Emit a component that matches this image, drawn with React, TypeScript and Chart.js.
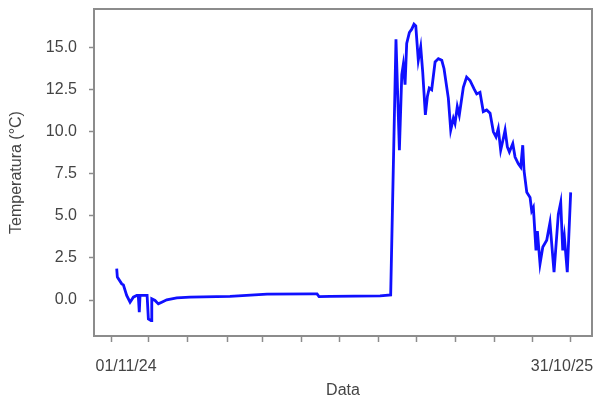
import React, { useEffect, useRef } from "react";
import { Chart, registerables } from "chart.js";

Chart.register(...registerables);

// Days since 01/11/24
const DAYS = [
  4.5, 5.0, 8.5, 9.8, 12.4, 15.1, 17.7, 20.4, 21.6, 22.4, 23.0, 27.0, 28.6, 29.6, 31.7, 32.3,
  34.9, 37.5, 40.2, 44.2, 52.1, 62.6, 94.3, 123.7, 160.1, 163.3, 164.9, 173.6, 213.3, 221.7,
  225.9, 228.6, 230.5, 231.7, 233.1, 234.4, 236.5, 238.4, 240.2, 241.6, 243.6, 245.5, 247.1,
  249.2, 250.8, 252.3, 254.2, 256.9, 259.5, 262.2, 264.0, 267.4, 269.3, 271.4, 272.7, 274.5,
  276.1, 279.3, 281.9, 284.6, 287.8, 289.9, 292.5, 295.1, 297.8, 300.5, 303.1, 305.2, 307.0,
  308.9, 311.0, 312.4, 314.2, 315.8, 318.5, 320.3, 322.9, 324.8, 326.4, 327.4, 329.6, 332.2,
  333.5, 334.8, 336.9, 338.0, 340.1, 342.3, 345.4, 348.0, 351.2, 354.6, 356.5, 358.1, 359.4,
  361.7, 364.4,
];
const TEMPS = [
  1.86, 1.36, 0.96, 0.9, 0.27, -0.13, 0.17, 0.27, 0.27, -0.73, 0.27, 0.27, 0.27, -1.12, -1.22, 0.07,
  -0.03, -0.23, -0.13, 0.01, 0.13, 0.17, 0.22, 0.35, 0.37, 0.36, 0.2, 0.22, 0.25, 0.3,
  15.5, 8.9, 13.4, 14.0, 12.8, 15.25, 15.9, 16.1, 16.4, 16.3, 14.25, 15.05, 13.55,
  11.0, 12.1, 12.6, 12.5, 14.15, 14.35, 14.25, 13.75, 12.0, 10.1, 10.8, 10.5, 11.5,
  11.0, 12.65, 13.25, 13.05, 12.55, 12.25, 12.35, 11.2, 11.3, 11.1, 10.0, 9.7, 10.2,
  8.9, 9.6, 10.1, 9.1, 8.8, 9.3, 8.5, 8.1, 7.9, 9.2, 7.7, 6.4, 6.1,
  5.3, 5.5, 2.95, 4.1, 2.15, 3.15, 3.55, 4.6, 1.65, 5.1, 5.8, 2.95, 3.75,
  1.65, 6.4,
];

const Y_TICKS = [0, 2.5, 5, 7.5, 10, 12.5, 15];
// month starts (days since 01/11/24)
const X_TICK_DAYS = [0, 30, 61, 92, 120, 151, 181, 212, 242, 273, 304, 334, 364];
const X_LABELS = ["01/11/24", "31/10/25"];
const X_LABEL_DAYS = [11.9, 357.5];

const FONT = "'Liberation Sans', Arial, sans-serif";

const boxPlugin = {
  id: "plotBox",
  afterDraw(chart: any) {
    const { ctx, chartArea } = chart;
    ctx.save();
    ctx.strokeStyle = "#8c8c8c";
    ctx.lineWidth = 2;
    ctx.strokeRect(chartArea.left, chartArea.top, chartArea.right - chartArea.left, chartArea.bottom - chartArea.top);
    ctx.restore();
  },
};

export default function App() {
  const ref = useRef<HTMLCanvasElement>(null);
  useEffect(() => {
    if (!ref.current) return;
    const data = DAYS.map((d, i) => ({ x: d, y: TEMPS[i] }));
    const chart = new Chart(ref.current, {
      type: "line",
      data: {
        datasets: [
          {
            data,
            borderColor: "#1010ff",
            borderWidth: 2.8,
            pointRadius: 0,
            tension: 0,
            fill: false,
          },
        ],
      },
      options: {
        animation: false,
        responsive: true,
        maintainAspectRatio: false,
        layout: { padding: { top: 9, right: 1, left: 0, bottom: 0 } },
        plugins: { legend: { display: false }, tooltip: { enabled: false } },
        scales: {
          x: {
            type: "linear",
            min: -13.5,
            max: 381.3,
            afterFit: (s: any) => {
              s.height = 64;
              s.paddingLeft = 0;
              s.paddingRight = 0;
            },
            afterBuildTicks: (s: any) => {
              s.ticks = [
                ...X_TICK_DAYS.map((v) => ({ value: v })),
                ...X_LABEL_DAYS.map((v) => ({ value: v })),
              ];
            },
            border: { display: false },
            grid: {
              drawOnChartArea: false,
              drawTicks: true,
              tickLength: 6,
              tickWidth: 1.5,
              tickColor: (c: any) =>
                c.tick && X_LABEL_DAYS.includes(c.tick.value) ? "rgba(0,0,0,0)" : "#8c8c8c",
            },
            ticks: {
              autoSkip: false,
              maxRotation: 0,
              minRotation: 0,
              padding: 15,
              color: "#444",
              font: { family: FONT, size: 16 },
              callback: (v: any) => {
                const i = X_LABEL_DAYS.indexOf(v);
                return i >= 0 ? X_LABELS[i] : "";
              },
            },
            title: {
              display: true,
              text: "Data",
              color: "#444",
              padding: { top: 0, bottom: 0 },
              font: { family: FONT, size: 16 },
            },
          },
          y: {
            type: "linear",
            min: -2.14,
            max: 17.3,
            afterFit: (s: any) => {
              s.width = 94;
              s.paddingTop = 0;
              s.paddingBottom = 0;
            },
            afterBuildTicks: (s: any) => {
              s.ticks = Y_TICKS.map((v) => ({ value: v }));
            },
            border: { display: false },
            grid: {
              drawOnChartArea: false,
              drawTicks: true,
              tickLength: 5,
              tickWidth: 1.5,
              tickColor: "#8c8c8c",
            },
            ticks: {
              padding: 12,
              color: "#444",
              font: { family: FONT, size: 16 },
              callback: (v: any) => Number(v).toFixed(1),
            },
            title: {
              display: true,
              text: "Temperatura (°C)",
              color: "#444",
              padding: { top: 7, bottom: 0 },
              font: { family: FONT, size: 16 },
            },
          },
        },
      },
      plugins: [boxPlugin],
    });
    return () => chart.destroy();
  }, []);
  return (
    <div style={{ position: "fixed", left: 0, top: 0, width: 593, height: 400, background: "#fff" }}>
      <canvas ref={ref} />
    </div>
  );
}
